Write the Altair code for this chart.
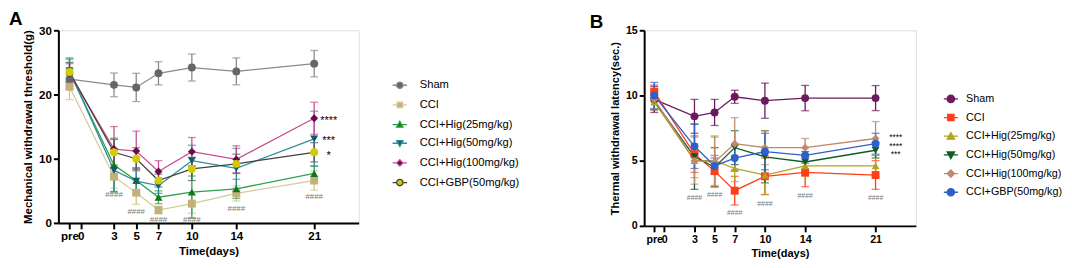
import altair as alt
import pandas as pd

# ---------------- data ----------------
days = [-1, 3, 5, 7, 10, 14, 21]          # -1 == "pre"
tick_values = [-1, 0, 3, 5, 7, 10, 14, 21]
series = ["Sham", "CCI", "CCI+Hig(25mg/kg)", "CCI+Hig(50mg/kg)",
          "CCI+Hig(100mg/kg)", "CCI+GBP(50mg/kg)"]

# Panel A: mechanical withdrawal threshold (g), mean and error
a_sham = [22.4, 21.5, 21.1, 23.3, 24.2, 23.6, 24.8]
a_cci = [21.2, 7.2, 4.7, 2.0, 3.0, 4.6, 6.6]
a_hig25 = [23.5, 9.0, 6.6, 4.0, 4.8, 5.3, 7.7]
a_hig50 = [23.7, 8.2, 6.5, 5.8, 9.7, 8.5, 13.1]
a_hig100 = [23.3, 11.5, 11.2, 8.0, 11.1, 9.9, 16.3]
a_gbp = [23.5, 11.0, 10.0, 6.6, 8.4, 9.2, 11.0]
a_sham_e = [1.5, 1.85, 2.2, 1.8, 2.1, 2.1, 2.05]
a_cci_e = [2.0, 1.8, 1.8, 0.6, 1.5, 1.2, 1.5]
a_hig25_e = [2.2, 4.2, 2.0, 1.0, 4.0, 1.5, 1.2]
a_hig50_e = [1.8, 3.3, 2.0, 1.2, 2.4, 3.1, 4.3]
a_hig100_e = [1.5, 3.5, 3.1, 1.7, 2.2, 2.1, 2.5]
a_gbp_e = [1.5, 2.0, 1.7, 1.0, 1.8, 1.5, 1.5]

# Panel B: thermal withdrawal latency (sec.), mean and error
b_sham = [9.7, 8.4, 8.7, 9.9, 9.6, 9.8, 9.8]
b_cci = [10.3, 5.5, 4.2, 2.7, 3.8, 4.1, 3.9]
b_hig25 = [9.5, 5.0, 5.0, 4.4, 3.9, 4.6, 4.6]
b_hig50 = [9.6, 5.3, 4.5, 6.0, 5.3, 4.9, 5.8]
b_hig100 = [9.7, 5.0, 4.9, 6.3, 6.0, 6.0, 6.7]
b_gbp = [10.0, 6.1, 4.6, 5.2, 5.7, 5.4, 6.3]
b_sham_e = [1.0, 1.3, 1.0, 0.5, 1.35, 0.97, 0.96]
b_cci_e = [0.5, 1.4, 1.2, 1.1, 1.4, 1.1, 1.1]
b_hig25_e = [0.6, 1.3, 1.9, 1.0, 1.5, 0.8, 0.8]
b_hig50_e = [0.7, 2.5, 1.5, 1.3, 2.0, 0.8, 0.6]
b_hig100_e = [0.8, 1.8, 1.9, 2.0, 1.3, 0.7, 1.3]
b_gbp_e = [1.0, 1.7, 0.6, 1.0, 1.4, 0.6, 0.8]

# significance annotations
a_hash_days = [3, 5, 7, 10, 14, 21]
a_hash_y = [4.3, 1.7, 0.5, 0.5, 2.1, 4.1]
a_star_text = ["****", "***", "*"]
a_star_day = [22.3, 22.3, 22.3]
a_star_y = [16.3, 13.2, 10.8]

b_hash_days = [3, 5, 7, 10, 14, 21]
b_hash_y = [2.1, 2.4, 0.95, 1.65, 2.3, 2.1]
b_star_text = ["****", "****", "***"]
b_star_day = [23.0, 23.0, 23.0]
b_star_y = [7.05, 6.38, 5.72]

# ---------------- styles ----------------
FONT = "Liberation Sans"
shapes = ["circle", "square", "triangle-up", "triangle-down", "diamond", "circle"]

a_line_cols = ["#8a8a8a", "#d6ca9a", "#2aa34a", "#2a8f9c", "#c94f8f", "#404040"]
a_mark_cols = ["#666666", "#c3b07a", "#17731f", "#0f5c6b", "#6b0a4f", "#d4cc00"]
a_err_cols = ["#8a8a8a", "#d0c38f", "#2aa34a", "#2a8f9c", "#c94f8f", "#555555"]

b_line_cols = ["#6b1a5e", "#ff3d17", "#b3a41f", "#0f5c28", "#c08a6c", "#2f5fc9"]
b_mark_cols = b_line_cols
b_err_cols = b_line_cols


def legend_paths(r):
    return [
        f"M-{r},0H-1M1,0H{r}M1,0A1,1 0 1,1 -1,0A1,1 0 1,1 1,0Z",
        f"M-{r},0H-0.85M0.85,0H{r}M-0.85,-0.85H0.85V0.85H-0.85Z",
        f"M-{r},0H-0.56M0.56,0H{r}M0,-1L1,0.8H-1Z",
        f"M-{r},0H-0.56M0.56,0H{r}M0,1L1,-0.8H-1Z",
        f"M-{r},0H-1M1,0H{r}M0,-1L1,0L0,1L-1,0Z",
        f"M-{r},0H-1M1,0H{r}M1,0A1,1 0 1,1 -1,0A1,1 0 1,1 1,0Z",
    ]


def make_df(means, errs, lcols, mcols, ecols):
    rows = []
    for i, s in enumerate(series):
        for d, m, e in zip(days, means[i], errs[i]):
            rows.append(dict(series=s, day=d, mean=m, lo=m - e, hi=m + e,
                             lc=lcols[i], mc=mcols[i], ec=ecols[i],
                             shp=shapes[i], idx=i))
    return pd.DataFrame(rows)


def panel(df, ydom, yvals, ytitle, letter, letter_size, letter_x, letter_y,
          lab_fs, tit_fs, leg, hash_df, hash_fs, star_df, star_fs, width, height,
          pt_size, lcols, mcols):
    xaxis = alt.Axis(values=tick_values,
                     labelExpr="datum.value == -1 ? 'pre' : datum.label",
                     title="Time(days)", grid=False, labelOverlap=False,
                     labelFlush=False, tickSize=6, tickWidth=2,
                     domainWidth=2, domainColor="black", tickColor="black",
                     labelFont=FONT, labelFontSize=lab_fs,
                     labelFontWeight="bold", labelColor="black",
                     labelPadding=2, titleFont=FONT,
                     titleFontSize=tit_fs, titleFontWeight="bold",
                     titleColor="black", titlePadding=3)
    xscale = alt.Scale(domain=[-2, 25], nice=False, zero=False)
    yscale = alt.Scale(domain=ydom, nice=False, zero=True)
    yaxis = alt.Axis(values=yvals, title=ytitle, grid=False, tickSize=5,
                     tickWidth=2, domainWidth=2, domainColor="black",
                     tickColor="black", labelFont=FONT, labelFontSize=lab_fs,
                     labelFontWeight="bold", labelColor="black", labelPadding=2,
                     labelOverlap=False,
                     titleFont=FONT, titleFontSize=tit_fs, titleFontWeight="bold",
                     titleColor="black", titlePadding=5)

    def X(field="day"):
        return alt.X(f"{field}:Q", scale=xscale, axis=xaxis)

    def Y(field):
        return alt.Y(f"{field}:Q", scale=yscale, axis=yaxis)

    base = alt.Chart(df)
    err = base.mark_errorbar(ticks={"size": 8}, thickness=1.3).encode(
        x=X(), y=Y("lo"), y2="hi:Q",
        color=alt.Color("ec:N", scale=None),
        detail="series:N",
    )
    lines = base.mark_line(strokeWidth=1.3).encode(
        x=X(), y=Y("mean"),
        stroke=alt.Stroke("lc:N", scale=None),
        detail="series:N",
    )
    pts = base.mark_point(filled=True, size=pt_size, opacity=1).encode(
        x=X(), y=Y("mean"),
        fill=alt.Fill("mc:N", scale=None),
        shape=alt.Shape("shp:N", scale=None),
        order=alt.Order("idx:Q"),
    )
    legend_kw = dict(title=None, orient="none", legendX=leg["x"], legendY=leg["y"],
                     labelFont=FONT, labelFontSize=leg["fs"], labelColor="black",
                     labelOffset=leg["off"], rowPadding=leg["rp"],
                     symbolSize=leg["size"], symbolStrokeWidth=1.3, padding=0)
    leg_layer = base.transform_filter("false").mark_point(
        filled=True, size=leg["size"], opacity=1, strokeWidth=1.3).encode(
        x=X(), y=Y("mean"),
        shape=alt.Shape("series:N", scale=alt.Scale(domain=series, range=legend_paths(leg["r"])),
                        legend=alt.Legend(**legend_kw)),
        fill=alt.Fill("series:N", scale=alt.Scale(domain=series, range=mcols),
                      legend=alt.Legend(**legend_kw)),
        stroke=alt.Stroke("series:N", scale=alt.Scale(domain=series, range=lcols),
                          legend=alt.Legend(**legend_kw)),
    )
    hashes = alt.Chart(hash_df).mark_text(font=FONT, fontSize=hash_fs, color="#7a7a7a",
                                          baseline="middle", align="center").encode(
        x=X(), y=Y("y"), text="t:N",
    )
    stars = alt.Chart(star_df).mark_text(font=FONT, fontSize=star_fs, color="black",
                                         baseline="middle", align="center", dy=3).encode(
        x=X(), y=Y("y"), text="t:N",
    )
    lab = alt.Chart(pd.DataFrame({"t": [letter]})).mark_text(
        font=FONT, fontSize=letter_size, fontWeight="bold", color="black",
        align="left", baseline="top").encode(
        x=alt.value(letter_x), y=alt.value(letter_y), text="t:N")
    return alt.layer(err, lines, pts, leg_layer, hashes, stars, lab).properties(
        width=width, height=height)


dfA = make_df([a_sham, a_cci, a_hig25, a_hig50, a_hig100, a_gbp],
              [a_sham_e, a_cci_e, a_hig25_e, a_hig50_e, a_hig100_e, a_gbp_e],
              a_line_cols, a_mark_cols, a_err_cols)
dfB = make_df([b_sham, b_cci, b_hig25, b_hig50, b_hig100, b_gbp],
              [b_sham_e, b_cci_e, b_hig25_e, b_hig50_e, b_hig100_e, b_gbp_e],
              b_line_cols, b_mark_cols, b_err_cols)

hashA = pd.DataFrame({"day": a_hash_days, "y": a_hash_y, "t": ["####"] * len(a_hash_days)})
starA = pd.DataFrame({"day": a_star_day, "y": a_star_y, "t": a_star_text})
hashB = pd.DataFrame({"day": b_hash_days, "y": b_hash_y, "t": ["####"] * len(b_hash_days)})
starB = pd.DataFrame({"day": b_star_day, "y": b_star_y, "t": b_star_text})

chartA = panel(dfA, [0, 30], [0, 10, 20, 30], "Mechanical withdrawal threshold(g)",
               "A", 19, -50, -20, 11.7, 11.6,
               dict(x=340, y=50, fs=11.3, off=14.5, rp=6.9, size=42, r=2.25),
               hashA, 8, starA, 11, 304, 195, 64, a_line_cols, a_mark_cols)
chartB = panel(dfB, [0, 15], [0, 5, 10, 15], "Thermal withdrawal latency(sec.)",
               "B", 19, -55, -17, 10.8, 11.2,
               dict(x=305, y=64, fs=10.9, off=10, rp=5.9, size=56, r=1.9),
               hashB, 7, starB, 8.5, 275, 198, 64, b_line_cols, b_mark_cols)

chart = alt.hconcat(chartA, chartB, spacing=69).resolve_scale(
    x="independent", y="independent", shape="independent",
    fill="independent", stroke="independent", color="independent"
).properties(padding=0).configure_view(stroke=None).configure(background="white")

chart.save("out.html", embed_options={"renderer": "svg", "actions": False})
